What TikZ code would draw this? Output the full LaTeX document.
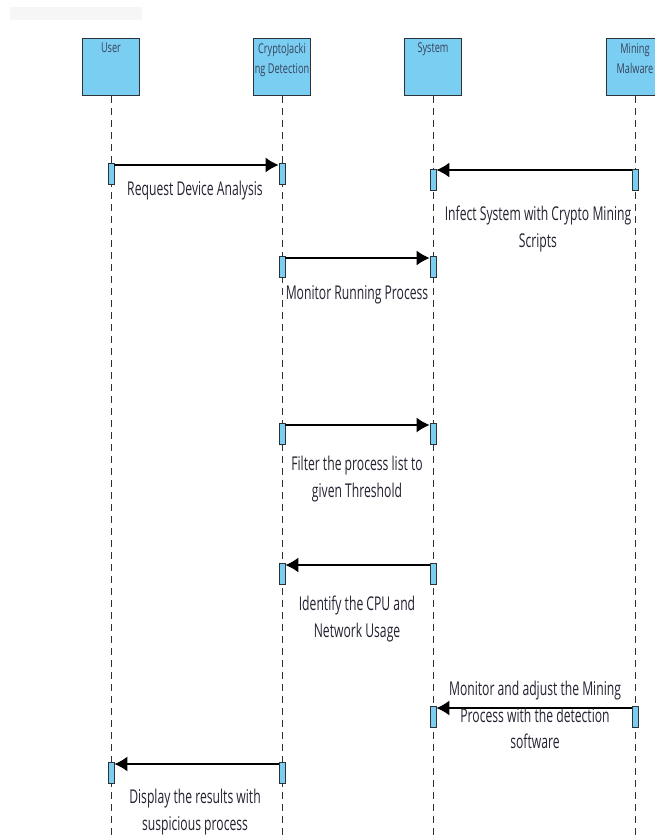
\documentclass[tikz,border=0pt]{standalone}
\usepackage{fontspec}
\newfontfamily\lblfont[FakeStretch=0.64]{Open Sans}
\newfontfamily\headfont[FakeStretch=0.68]{Open Sans}
\usetikzlibrary{arrows.meta}
\definecolor{lifeblue}{RGB}{122,206,242}
\definecolor{framegray}{RGB}{45,50,55}
\definecolor{txtgray}{RGB}{35,35,50}
\definecolor{headtxt}{RGB}{55,65,90}
\tikzstyle{head}=[draw=framegray, line width=1.3pt, fill=lifeblue, minimum width=57pt, minimum height=57pt, inner sep=0pt, anchor=north]
\tikzstyle{headtext}=[font=\headfont\fontsize{13.5}{20}\selectfont, text=headtxt, align=center, inner sep=0pt, anchor=north]
\tikzstyle{life}=[framegray, line width=0.9pt, dash pattern=on 7pt off 5pt]
\tikzstyle{act}=[draw=framegray, line width=0.9pt, fill=lifeblue, minimum width=6pt, minimum height=21pt, inner sep=0pt, anchor=north]
\tikzstyle{msg}=[black, line width=1.2pt, -{Latex[length=13pt,width=15pt]}]
\tikzstyle{lbl}=[font=\lblfont\fontsize{19}{26.5}\selectfont, text=txtgray, align=center, inner sep=0pt, anchor=north]

\begin{document}
\begin{tikzpicture}[x=1pt,y=-1pt]
\useasboundingbox (0,0) rectangle (655,837);
\clip (0,0) rectangle (655,837);
\fill[gray!7] (10,7) rectangle (142,20);
% lifeline heads
\node [head] (user) at (111,38) {};
\node [head] (cjd) at (282,38) {};
\node [head] (sys) at (433,38) {};
\node [head] (mal) at (635,38) {};
\node [headtext] (usert) at ([yshift=-5pt]user.north) {User};
\node [headtext] (cjdt) at ([yshift=-5pt]cjd.north) {CryptoJacki\\ng Detection};
\node [headtext] (syst) at ([yshift=-5pt]sys.north) {System};
\node [headtext] (malt) at ([yshift=-5pt]mal.north) {Mining\\Malware};
% lifelines
\draw [life] (user.south) -- (111,837);
\draw [life] (cjd.south) -- (282,837);
\draw [life] (sys.south) -- (433,837);
\draw [life] (mal.south) -- (635,837);
% activations
\node [act] (a1) at (111,163) {};
\node [act] (b1) at (282,163) {};
\node [act] (a2) at (635,169) {};
\node [act] (b2) at (433,169) {};
\node [act] (a3) at (282,256) {};
\node [act] (b3) at (433,256) {};
\node [act] (a4) at (282,423) {};
\node [act] (b4) at (433,423) {};
\node [act] (a5) at (433,563) {};
\node [act] (b5) at (282,563) {};
\node [act] (a6) at (635,706) {};
\node [act] (b6) at (433,706) {};
\node [act] (a7) at (282,762) {};
\node [act] (b7) at (111,762) {};
% messages
\draw [msg] ([yshift=-2pt]a1.north east) -- ([yshift=-2pt]b1.north west);
\draw [msg] ([yshift=-1pt]a2.north west) -- ([yshift=-1pt]b2.north east);
\draw [msg] ([yshift=-2pt]a3.north east) -- ([yshift=-2pt]b3.north west);
\draw [msg] ([yshift=-2pt]a4.north east) -- ([yshift=-2pt]b4.north west);
\draw [msg] ([yshift=-2pt]a5.north west) -- ([yshift=-2pt]b5.north east);
\draw [msg] ([yshift=-2pt]a6.north west) -- ([yshift=-2pt]b6.north east);
\draw [msg] ([yshift=-2pt]a7.north west) -- ([yshift=-2pt]b7.north east);
% labels
\node [lbl] (l1) at (195,181) {Request Device Analysis};
\node [lbl] (l2) at (538,206) {Infect System with Crypto Mining\\Scripts};
\node [lbl] (l3) at (357,285) {Monitor Running Process};
\node [lbl] (l4) at (357,456) {Filter the process list to\\given Threshold};
\node [lbl] (l5) at (357,596) {Identify the CPU and\\Network Usage};
\node [lbl] (l6) at (535,681) {Monitor and adjust the Mining\\Process with the detection\\software};
\node [lbl] (l7) at (195,789) {Display the results with\\suspicious process};
\end{tikzpicture}
\end{document}
